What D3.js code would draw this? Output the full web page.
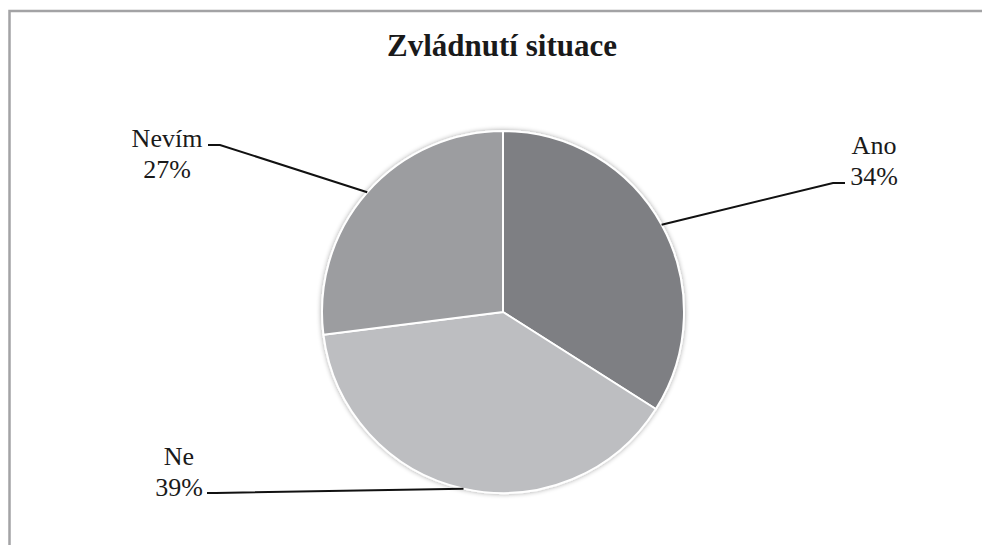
<!DOCTYPE html>
<html>
<head>
<meta charset="utf-8">
<script src="https://cdn.jsdelivr.net/npm/d3@7"></script>
<style>
  body { margin: 0; background: #fff; overflow: hidden; }
  svg { display: block; }
</style>
</head>
<body>
<svg id="chart"></svg>
<script>
// data
const categories = ["Ano", "Ne", "Nevím"];
const shares = [34, 39, 27];
const sliceColors = ["#7e7f83", "#bdbec1", "#9c9da0"];
const chartTitle = "Zvládnutí situace";

// label placement (layout only): text centre, elbow point, tick end
const labelLayout = [
  {tx: 874, ty: 154, elbow: [833, 183], tick: [845, 183]},
  {tx: 179, ty: 465, elbow: [216, 493], tick: [207, 493]},
  {tx: 167, ty: 147, elbow: [220, 145], tick: [208, 145]}
];

const width = 982, height = 545;
const cx = 503, cy = 312, radius = 181;
const serif = "Liberation Serif";

const svg = d3.select("#chart")
    .attr("width", width)
    .attr("height", height);

// outer frame: only top and left edges fall inside the window
svg.append("path")
    .attr("d", `M9.5,${height + 5}V11H${width + 5}`)
    .attr("fill", "none")
    .attr("stroke", "#a3a3a5")
    .attr("stroke-width", 2.5);

svg.append("text")
    .attr("x", 502).attr("y", 56)
    .attr("text-anchor", "middle")
    .attr("font-family", serif)
    .attr("font-size", 31)
    .attr("font-weight", "bold")
    .attr("fill", "#1a1a1a")
    .text(chartTitle);

const defs = svg.append("defs");
const shadow = defs.append("filter").attr("id", "soft")
    .attr("x", "-10%").attr("y", "-10%").attr("width", "120%").attr("height", "120%");
shadow.append("feGaussianBlur").attr("in", "SourceAlpha").attr("stdDeviation", 2.5).attr("result", "b");
shadow.append("feComponentTransfer").attr("in", "b").attr("result", "s")
    .append("feFuncA").attr("type", "linear").attr("slope", 0.35);
const merge = shadow.append("feMerge");
merge.append("feMergeNode").attr("in", "s");
merge.append("feMergeNode").attr("in", "SourceGraphic");

const pie = d3.pie().sort(null).value(d => d);
const arcs = pie(shares);

const arc = d3.arc().innerRadius(0).outerRadius(radius);
const edgeArc = d3.arc().innerRadius(radius).outerRadius(radius);

const g = svg.append("g").attr("transform", `translate(${cx},${cy})`);

g.append("g").attr("filter", "url(#soft)")
  .selectAll("path")
  .data(arcs)
  .enter().append("path")
    .attr("d", arc)
    .attr("fill", (d, i) => sliceColors[i])
    .attr("stroke", "#fff")
    .attr("stroke-width", 2)
    .attr("stroke-linejoin", "round");

// leader lines and labels
arcs.forEach((d, i) => {
  const p = edgeArc.centroid(d);
  const L = labelLayout[i];
  svg.append("polyline")
      .attr("points", [[cx + p[0], cy + p[1]], L.elbow, L.tick].map(q => q.join(",")).join(" "))
      .attr("fill", "none")
      .attr("stroke", "#111")
      .attr("stroke-width", 2);

  const t = svg.append("text")
      .attr("x", L.tx).attr("y", L.ty)
      .attr("text-anchor", "middle")
      .attr("font-family", serif)
      .attr("font-size", 26)
      .attr("fill", "#1a1a1a");
  t.append("tspan").attr("x", L.tx).text(categories[i]);
  t.append("tspan").attr("x", L.tx).attr("dy", 31).text(shares[i] + "%");
});
</script>
</body>
</html>
